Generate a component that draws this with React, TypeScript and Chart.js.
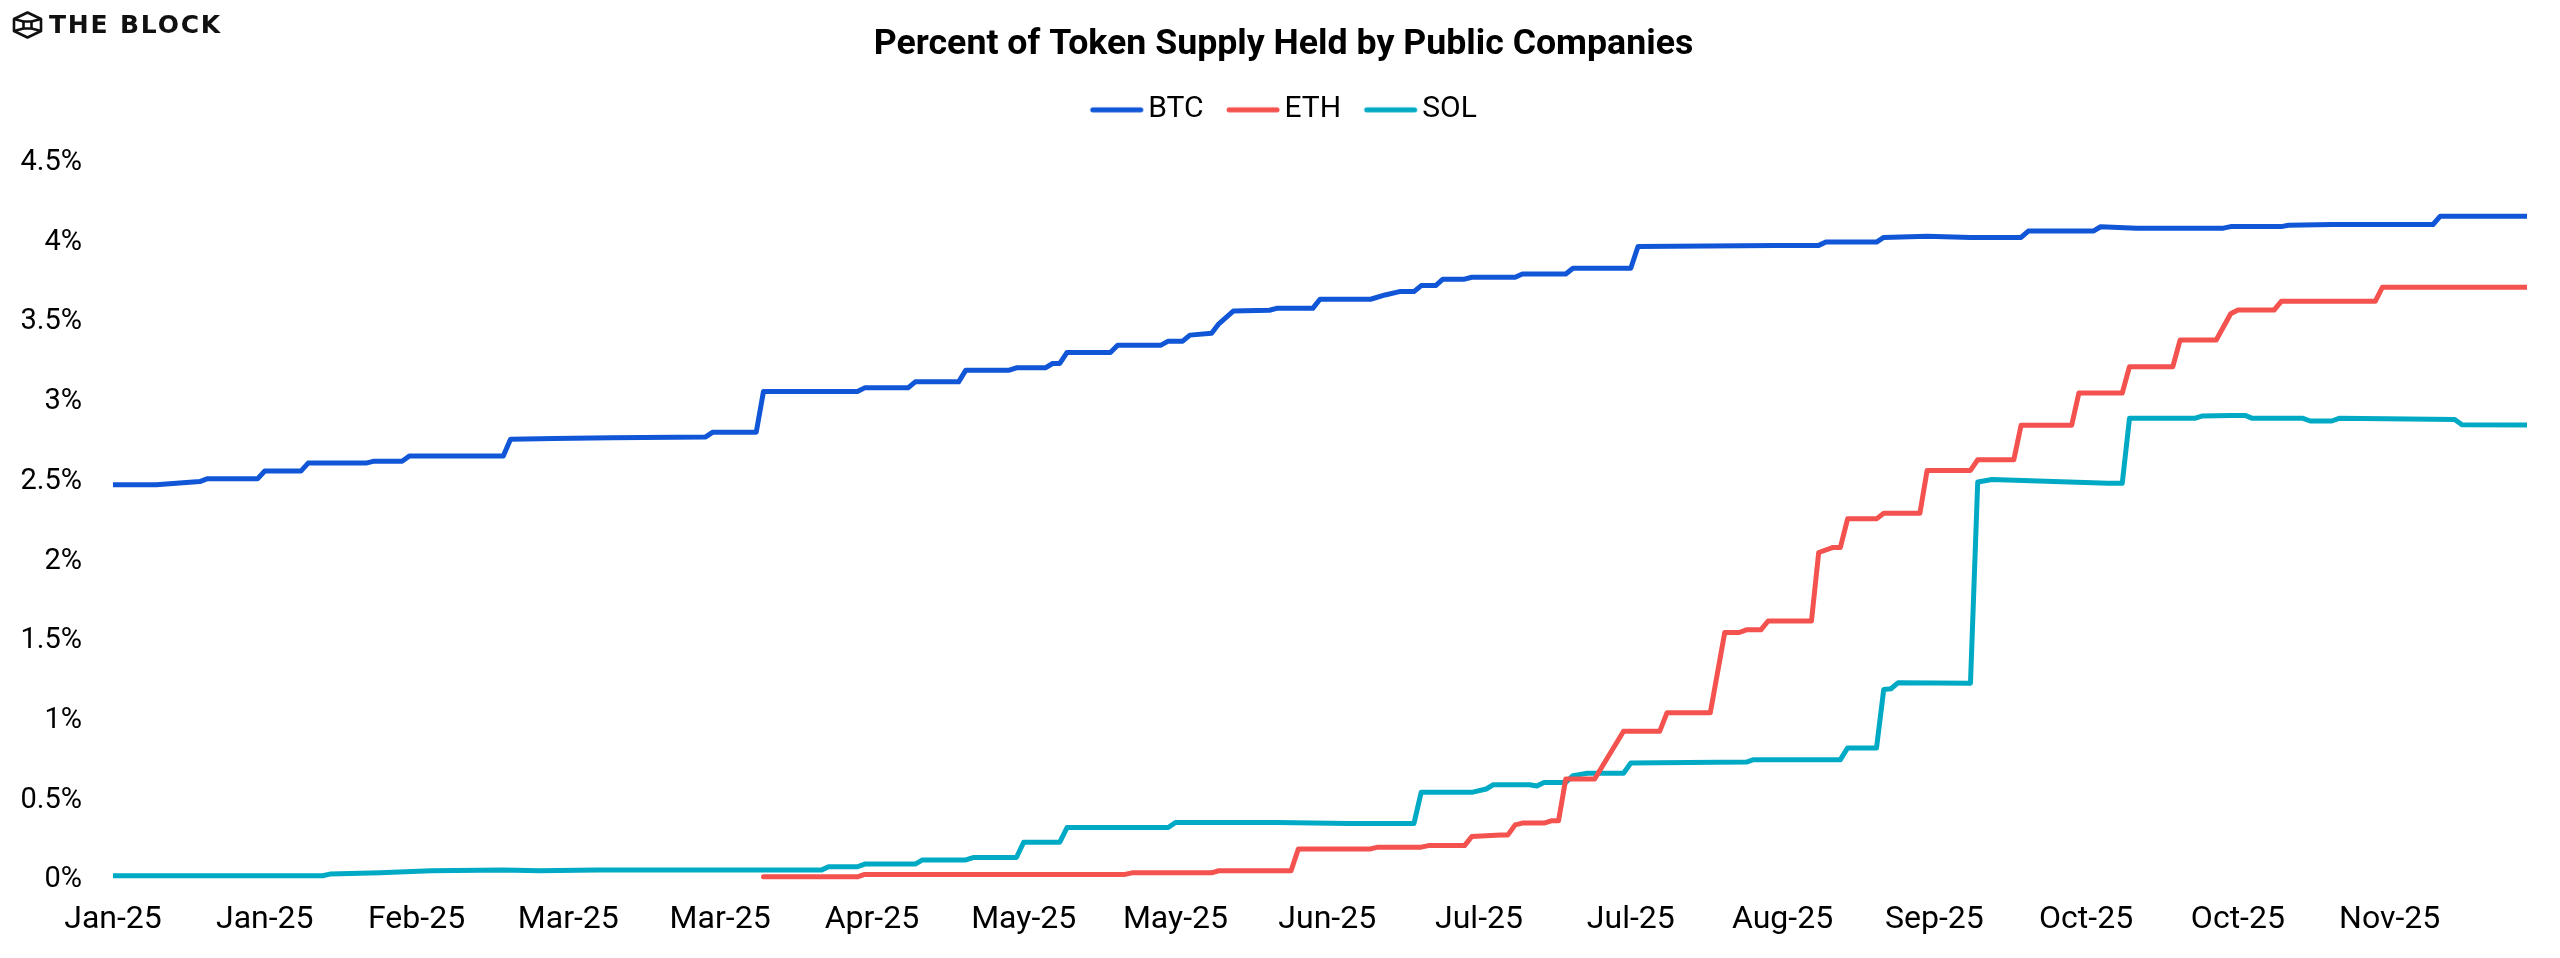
import React, { useEffect, useRef } from "react";
import { Chart, registerables } from "chart.js";

Chart.register(...registerables);

// ---- data (day index from 1 Jan 2025, percent of supply) ----
const xTickLabels = [
  "Jan-25", "Jan-25", "Feb-25", "Mar-25", "Mar-25", "Apr-25", "May-25", "May-25",
  "Jun-25", "Jul-25", "Jul-25", "Aug-25", "Sep-25", "Oct-25", "Oct-25", "Nov-25",
];
const tickStepDays = 21;
const lastDay = 334;

const btcDays = [
  0, 6, 12, 13, 20, 21, 26, 27, 35, 36, 40, 41, 54, 55, 61, 69, 82, 83, 89, 90,
  103, 104, 110, 111, 117, 118, 124, 125, 129, 130, 131, 132, 138, 139, 145, 146,
  148, 149, 152, 153, 155, 160, 161, 166, 167, 174, 176, 178, 180, 181, 183, 184,
  187, 188, 194, 195, 201, 202, 210, 211, 230, 236, 237, 244, 245, 251, 257, 264,
  265, 274, 275, 280, 292, 293, 300, 301, 307, 321, 322, 334,
];
const btcValues = [
  2.48, 2.48, 2.5, 2.517, 2.517, 2.566, 2.566, 2.616, 2.616, 2.627, 2.627, 2.66, 2.66, 2.765, 2.77, 2.775, 2.78, 2.81, 2.81, 3.065,
  3.065, 3.088, 3.088, 3.126, 3.126, 3.199, 3.199, 3.214, 3.214, 3.241, 3.241, 3.31, 3.31, 3.356, 3.356, 3.381,
  3.381, 3.419, 3.43, 3.49, 3.57, 3.575, 3.587, 3.587, 3.644, 3.644, 3.671, 3.692, 3.692, 3.73, 3.73, 3.77,
  3.77, 3.782, 3.782, 3.803, 3.803, 3.839, 3.839, 3.975, 3.982, 3.982, 4.003, 4.003, 4.032, 4.04, 4.032, 4.032,
  4.072, 4.072, 4.099, 4.09, 4.09, 4.1, 4.1, 4.108, 4.113, 4.113, 4.165, 4.165,
];

const ethDays = [
  90, 103, 104, 140, 141, 152, 153, 163, 164, 174, 175, 181, 182, 187, 188, 192, 193, 194, 195, 198,
  199, 200, 201, 205, 209, 214, 215, 221, 223, 225, 226, 228, 229, 235, 236, 238, 239, 240, 244, 245,
  250, 251, 257, 258, 263, 264, 271, 272, 278, 279, 285, 286, 291, 293, 294, 299, 300, 313, 314, 334,
];
const ethValues = [
  0.02, 0.02, 0.035, 0.035, 0.045, 0.045, 0.058, 0.058, 0.195, 0.195, 0.206, 0.206, 0.216, 0.216, 0.273, 0.283, 0.283, 0.346, 0.357, 0.357,
  0.371, 0.371, 0.634, 0.634, 0.933, 0.933, 1.049, 1.049, 1.553, 1.553, 1.57, 1.57, 1.625, 1.625, 2.055, 2.087, 2.087, 2.266, 2.266, 2.301,
  2.301, 2.57, 2.57, 2.637, 2.637, 2.853, 2.853, 3.056, 3.056, 3.221, 3.221, 3.388, 3.388, 3.553, 3.576, 3.576, 3.631, 3.631, 3.72, 3.72,
];

const solDays = [
  0, 29, 30, 37, 44, 54, 59, 67, 98, 99, 103, 104, 111, 112, 118, 119, 125, 126, 131, 132,
  146, 147, 161, 171, 180, 181, 188, 190, 191, 196, 197, 198, 201, 202, 204, 209, 210, 226, 227, 239,
  240, 244, 245, 246, 247, 257, 258, 260, 276, 278, 279, 288, 289, 293, 295, 296, 303, 304, 307, 308,
  324, 325, 334,
];
const solValues = [
  0.027, 0.027, 0.037, 0.045, 0.058, 0.062, 0.058, 0.062, 0.062, 0.083, 0.083, 0.1, 0.1, 0.126, 0.126, 0.141, 0.141, 0.237, 0.237, 0.329,
  0.329, 0.361, 0.361, 0.355, 0.355, 0.55, 0.55, 0.571, 0.598, 0.598, 0.59, 0.612, 0.612, 0.655, 0.67, 0.67, 0.734, 0.74, 0.755, 0.755,
  0.829, 0.829, 1.196, 1.2, 1.238, 1.235, 2.497, 2.513, 2.49, 2.49, 2.897, 2.897, 2.911, 2.915, 2.915, 2.897, 2.897, 2.88, 2.88, 2.897,
  2.89, 2.857, 2.855,
];

const seriesNames = ["BTC", "ETH", "SOL"];
const seriesColors = ["#1156d6", "#f4524e", "#00aac4"];
const titleText = "Percent of Token Supply Held by Public Companies";

const toPoints = (days: number[], vals: number[]) =>
  days.map((d, i) => ({ x: d, y: vals[i] }));

// legend swatch: a short round-capped line, offset so it sits close to its label
const makeLegendLine = (color: string) => {
  const c = document.createElement("canvas");
  c.width = 110;
  c.height = 10;
  const g = c.getContext("2d");
  if (g) {
    g.strokeStyle = color;
    g.lineWidth = 5;
    g.lineCap = "round";
    g.beginPath();
    g.moveTo(36, 5);
    g.lineTo(84, 5);
    g.stroke();
  }
  return c;
};

export default function App() {
  const canvasRef = useRef<HTMLCanvasElement | null>(null);

  useEffect(() => {
    const canvas = canvasRef.current;
    if (!canvas) return;
    const series = [
      toPoints(btcDays, btcValues),
      toPoints(ethDays, ethValues),
      toPoints(solDays, solValues),
    ];
    const swatches = seriesColors.map(makeLegendLine);
    const chart = new Chart(canvas, {
      type: "line",
      data: {
        datasets: series.map((pts, i) => ({
          label: seriesNames[i],
          data: pts,
          borderColor: seriesColors[i],
          backgroundColor: seriesColors[i],
          borderWidth: 5,
          pointRadius: 0,
          pointHoverRadius: 0,
          tension: 0,
          borderCapStyle: "round",
          borderJoinStyle: "round",
          fill: false,
          yAxisID: "y",
        })),
      },
      options: {
        responsive: false,
        animation: false,
        events: [],
        layout: { padding: { left: 20, right: 13, top: 0, bottom: -2.4 } },
        plugins: {
          title: {
            display: true,
            text: titleText,
            color: "#000",
            font: { family: "Roboto", size: 35.7, weight: "bold", lineHeight: 1.2 },
            padding: { top: 23.5, bottom: 5.5 },
          },
          subtitle: {
            display: true,
            text: "",
            position: "top",
            weight: 500,
            padding: 0,
            font: { family: "Roboto", size: 28, lineHeight: 1 },
          },
          legend: {
            display: true,
            position: "top",
            labels: {
              usePointStyle: true,
              pointStyleWidth: 43,
              padding: 23,
              color: "#000",
              font: { family: "Roboto", size: 30 },
              generateLabels: (c: any) =>
                Chart.defaults.plugins.legend.labels
                  .generateLabels(c)
                  .map((l: any, i: number) => ({ ...l, pointStyle: swatches[i] })),
            },
          },
          tooltip: { enabled: false },
        },
        scales: {
          x: {
            type: "linear",
            min: 0,
            max: lastDay,
            bounds: "data",
            grid: { display: false, drawTicks: false },
            border: { display: false },
            ticks: {
              stepSize: tickStepDays,
              includeBounds: false,
              autoSkip: false,
              maxRotation: 0,
              minRotation: 0,
              padding: 21,
              color: "#000",
              font: { family: "Roboto", size: 32 },
              callback: (v: any) => {
                const i = Number(v) / tickStepDays;
                return Number.isInteger(i) && i < xTickLabels.length ? xTickLabels[i] : "";
              },
            },
          },
          y: {
            position: "left",
            min: 0,
            max: 4.5,
            grid: { display: false, drawTicks: false },
            border: { display: false },
            ticks: {
              stepSize: 0.5,
              padding: 31,
              color: "#000",
              font: { family: "Roboto", size: 29 },
              callback: (v: any) => `${v}%`,
            },
            afterFit: (s: any) => {
              s.width = 93;
            },
          },
          yRightSpace: {
            position: "right",
            min: 0,
            max: 4.5,
            grid: { display: false, drawTicks: false },
            border: { display: false },
            ticks: { display: false },
            afterFit: (s: any) => {
              s.width = 20;
            },
          },
        },
      } as any,
    });
    return () => chart.destroy();
  }, []);

  return (
    <div style={{ position: "absolute", left: 0, top: 0, width: 2560, height: 958, background: "#fff" }}>
      <canvas
        ref={canvasRef}
        width={2560}
        height={958}
        style={{ position: "absolute", left: 0, top: 0, width: 2560, height: 958 }}
      />
      <svg
        width={31}
        height={28}
        viewBox="0 0 31 28"
        style={{ position: "absolute", left: 12, top: 11 }}
      >
        <g fill="none" stroke="#111" strokeWidth={2.6} strokeLinejoin="round">
          <polygon points="15.5,1.5 29,8 29,20 15.5,26.5 2,20 2,8" />
          <rect x={11.5} y={10.5} width={8} height={7} />
          <line x1={11.5} y1={10.5} x2={2} y2={8} />
          <line x1={19.5} y1={10.5} x2={29} y2={8} />
          <line x1={11.5} y1={17.5} x2={2} y2={20} />
          <line x1={19.5} y1={17.5} x2={29} y2={20} />
        </g>
      </svg>
      <span
        style={{
          position: "absolute",
          left: 49,
          top: 10,
          fontFamily: "'DejaVu Sans', sans-serif",
          fontWeight: 700,
          fontSize: 25,
          letterSpacing: 1.8,
          color: "#111",
          whiteSpace: "nowrap",
        }}
      >
        THE BLOCK
      </span>
    </div>
  );
}
